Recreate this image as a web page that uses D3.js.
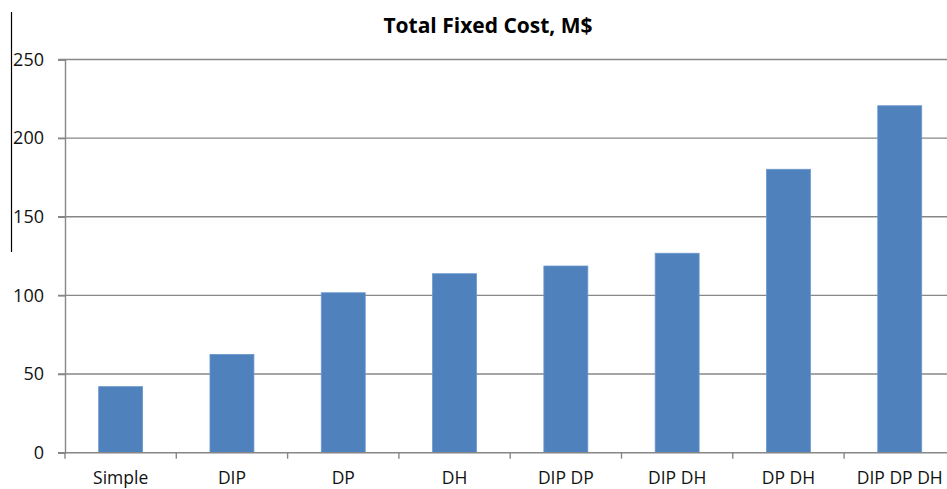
<!DOCTYPE html>
<html>
<head>
<meta charset="utf-8">
<script src="https://cdn.jsdelivr.net/npm/d3@7"></script>
<style>
  html, body { margin: 0; padding: 0; background: #fff; overflow: hidden; }
  svg { display: block; }
</style>
</head>
<body>
<script>
const categories = ["Simple", "DIP", "DP", "DH", "DIP DP", "DIP DH", "DP DH", "DIP DP DH"];
const values = [42, 62.5, 101.7, 113.8, 118.7, 126.8, 180.2, 220.6];
const yTicks = [0, 50, 100, 150, 200, 250];
const title = "Total Fixed Cost, M$";

const W = 947, H = 489;
const svg = d3.select("body").append("svg").attr("width", W).attr("height", H);

const x0 = 65, step = 111.3;
const x = d3.scaleBand().domain(categories).range([x0, x0 + step * categories.length]).padding(0);
const y = d3.scaleLinear().domain([0, 250]).range([452.7, 59.5]);

const font = "'Open Sans', sans-serif";
const grey = "#878787";

// gridlines
svg.append("g").selectAll("line").data(yTicks.filter(d => d > 0)).join("line")
  .attr("x1", x0 - 7).attr("x2", x0 + step * categories.length)
  .attr("y1", d => y(d)).attr("y2", d => y(d))
  .attr("stroke", grey).attr("stroke-width", 1.4);

// y axis
const yAxis = d3.axisLeft(y).tickValues(yTicks).tickSize(7).tickPadding(14);
const gy = svg.append("g").attr("transform", `translate(${x0},0)`).call(yAxis);
gy.select(".domain").attr("stroke", grey).attr("stroke-width", 1.4);
gy.selectAll(".tick line").attr("stroke", grey).attr("stroke-width", 1.4);
gy.selectAll(".tick text").attr("font-family", font).attr("font-size", 18).attr("fill", "#111")
  .attr("x", -21);

// bars
const barFrac = 0.395;
svg.append("g").selectAll("rect").data(categories).join("rect")
  .attr("x", (d) => x(d) + x.bandwidth() * (1 - barFrac) / 2)
  .attr("width", x.bandwidth() * barFrac)
  .attr("y", (d, i) => y(values[i]))
  .attr("height", (d, i) => y(0) - y(values[i]))
  .attr("fill", "#4f81bd")
  .attr("stroke", "#6b98cf").attr("stroke-width", 0.8);

// x axis baseline and boundary ticks
const gx = svg.append("g");
gx.append("line").attr("x1", x0 - 7).attr("x2", x0 + step * categories.length)
  .attr("y1", y(0)).attr("y2", y(0)).attr("stroke", grey).attr("stroke-width", 1.4);
const bounds = d3.range(categories.length + 1).map(i => x0 + i * step);
gx.selectAll("line.bt").data(bounds).join("line").attr("class", "bt")
  .attr("x1", d => d).attr("x2", d => d)
  .attr("y1", y(0)).attr("y2", y(0) + 6)
  .attr("stroke", grey).attr("stroke-width", 1.4);
const xAxis = d3.axisBottom(x).tickSize(0).tickPadding(0);
const gxl = svg.append("g").attr("transform", `translate(0,${y(0)})`).call(xAxis);
gxl.select(".domain").remove();
gxl.selectAll(".tick text").attr("font-family", font).attr("font-size", 17.5).attr("fill", "#111")
  .attr("dy", null).attr("y", 31);

// title
svg.append("text").attr("x", 488).attr("y", 33).attr("text-anchor", "middle")
  .attr("font-family", font).attr("font-weight", "bold").attr("font-size", 21)
  .attr("fill", "#000").text(title);

// left black line
svg.append("line").attr("x1", 11.5).attr("x2", 11.5).attr("y1", 12).attr("y2", 252)
  .attr("stroke", "#000").attr("stroke-width", 1.2);
</script>
</body>
</html>
